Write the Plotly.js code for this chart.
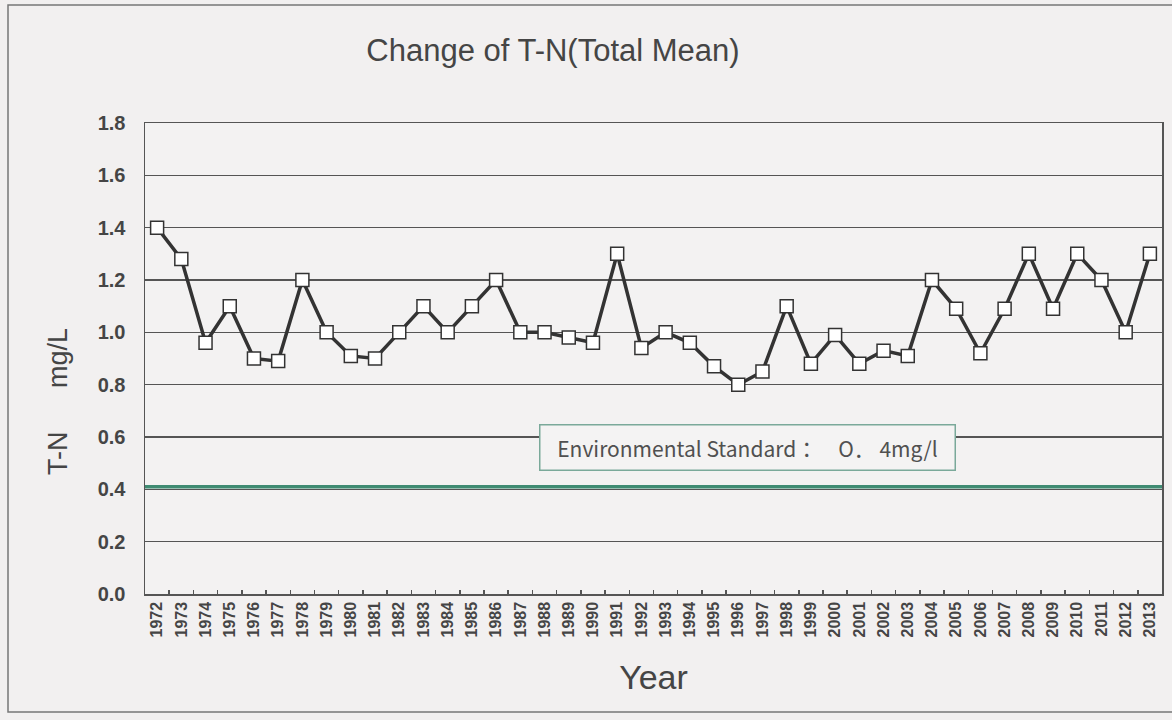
<!DOCTYPE html>
<html>
<head>
<meta charset="utf-8">
<script src="https://cdn.plot.ly/plotly-3.0.1.min.js"></script>
<style>html,body{margin:0;padding:0;background:#f2f0f0;}#chart{width:1172px;height:720px;}</style>
</head>
<body>
<div id="chart"></div>
<script>
var years = ["1972","1973","1974","1975","1976","1977","1978","1979","1980","1981","1982","1983","1984","1985","1986","1987","1988","1989","1990","1991","1992","1993","1994","1995","1996","1997","1998","1999","2000","2001","2002","2003","2004","2005","2006","2007","2008","2009","2010","2011","2012","2013"];
var tnValues = [1.40,1.28,0.96,1.10,0.90,0.89,1.20,1.00,0.91,0.90,1.00,1.10,1.00,1.10,1.20,1.00,1.00,0.98,0.96,1.30,0.94,1.00,0.96,0.87,0.80,0.85,1.10,0.88,0.99,0.88,0.93,0.91,1.20,1.09,0.92,1.09,1.30,1.09,1.30,1.20,1.00,1.30];
var standardValue = 0.41;
var yTicks = [0,0.2,0.4,0.6,0.8,1.0,1.2,1.4,1.6,1.8];
var yTickText = ["0.0","0.2","0.4","0.6","0.8","1.0","1.2","1.4","1.6","1.8"];

var W = 1172, H = 720, mL = 145, mR = 10, mT = 123, mB = 126;
var pw = W - mL - mR, ph = H - mT - mB;
function px(x){ return (x - mL) / pw; }
function py(y){ return (H - mB - y) / ph; }
var txt = '#454545';

var trace = {
  x: years, y: tnValues, type: 'scatter', mode: 'lines+markers',
  line: {color: '#333333', width: 3.5},
  marker: {symbol: 'square', size: 13, color: '#ffffff', line: {color: '#333333', width: 1.5}},
  hoverinfo: 'x+y', showlegend: false
};
var stdTrace = {
  x: [-0.5, years.length - 0.5], y: [standardValue, standardValue], type: 'scatter', mode: 'lines',
  xaxis: 'x2', line: {color: '#3f8b72', width: 3.5}, showlegend: false, hoverinfo: 'skip'
};

var layout = {
  width: W, height: H,
  margin: {l: mL, r: mR, t: mT, b: mB},
  paper_bgcolor: '#f2f0f0', plot_bgcolor: '#f3f2f2',
  font: {family: 'Liberation Sans, Arial, sans-serif', color: txt},
  title: {text: 'Change of T-N(Total Mean)', xref: 'container', x: 553 / W, xanchor: 'center',
          yref: 'container', y: 1 - 50 / H, yanchor: 'middle',
          font: {size: 31, color: txt, family: 'Liberation Sans, Arial, sans-serif'}},
  xaxis: {
    type: 'category', range: [-0.5, years.length - 0.5],
    tickangle: -90, tickfont: {size: 16, color: txt, family: 'Liberation Sans, Arial, sans-serif', weight: 'bold'},
    ticks: 'inside', tickson: 'boundaries', ticklen: 4, tickcolor: '#555555', tickwidth: 1.5,
    showline: true, linecolor: '#555555', linewidth: 1.5, mirror: true,
    showgrid: false, zeroline: false, automargin: false,
    title: {text: 'Year', font: {size: 34, color: txt}, standoff: 28}
  },
  xaxis2: {overlaying: 'x', range: [-0.5, years.length - 0.5], visible: false, fixedrange: true},
  yaxis: {
    range: [0, 1.8], tickvals: yTicks, ticktext: yTickText,
    tickfont: {size: 20, color: txt, weight: 'bold'}, ticks: '', ticklabelstandoff: 14,
    showgrid: true, gridcolor: '#555555', gridwidth: 1.5,
    showline: true, linecolor: '#555555', linewidth: 1.5, mirror: true,
    zeroline: false, automargin: false
  },
  shapes: [
    {type: 'rect', xref: 'paper', yref: 'paper', x0: px(8), x1: px(1180), y0: py(712), y1: py(5),
     line: {color: '#777777', width: 1.5}, fillcolor: 'rgba(0,0,0,0)', layer: 'below'}
  ],
  annotations: [
    {xref: 'paper', yref: 'paper', x: px(58), y: py(358), xanchor: 'center', yanchor: 'middle', textangle: -90,
     text: 'mg/L', showarrow: false, font: {size: 27, color: txt}},
    {xref: 'paper', yref: 'paper', x: px(58), y: py(453), xanchor: 'center', yanchor: 'middle', textangle: -90,
     text: 'T-N', showarrow: false, font: {size: 27, color: txt}},
    {xref: 'paper', yref: 'paper', x: px(747), y: py(447), xanchor: 'center', yanchor: 'middle',
     text: 'Environmental Standard\uff1a\u3000O\uff0e 4mg/l', showarrow: false,
     font: {size: 21, color: '#505050', family: 'Noto Sans CJK JP, Liberation Sans, sans-serif'},
     bgcolor: '#f4f3f3', bordercolor: '#7aa99a', borderwidth: 1.5, borderpad: 7, width: 400, height: 30}
  ]
};

Plotly.newPlot('chart', [trace, stdTrace], layout, {displayModeBar: false, staticPlot: true});
</script>
</body>
</html>
